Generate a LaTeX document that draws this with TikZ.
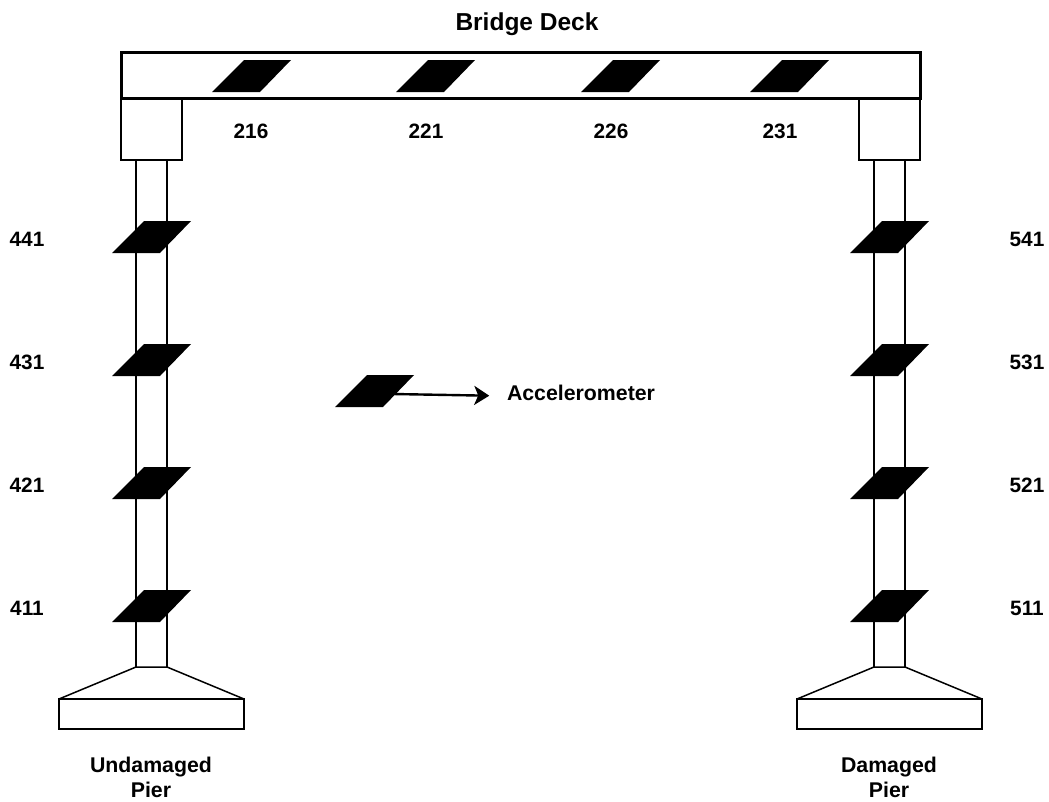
\documentclass[tikz,border=0pt]{standalone}
\usepackage{fontspec}
\setmainfont{Liberation Sans}
\usetikzlibrary{arrows.meta}
\begin{document}
\begin{tikzpicture}[x=1pt, y=-1pt, line width=1.5pt,
    lab/.style={font=\fontsize{21.3}{25}\bfseries\selectfont, inner sep=0pt, align=center},
    numlab/.style={lab, font=\fontsize{20.8}{25}\bfseries\selectfont, anchor=base},
    sensor/.pic={\fill[black] (0,0) -- (48,0) -- (79,-32) -- (32,-32) -- cycle;}]

  \useasboundingbox (0,0) rectangle (1049,801);

  % --- Pilas ---
  \foreach \dx/\name in {0/Undamaged, 738/Damaged} {
    \draw (\dx+121,98) rectangle (\dx+182,160);
    \draw (\dx+136,160) -- (\dx+136,667);
    \draw (\dx+167,160) -- (\dx+167,667);
    \draw (\dx+59,699) -- (\dx+136,667) -- (\dx+167,667) -- (\dx+244,699);
    \draw (\dx+59,699) rectangle (\dx+244,729);
    \node[lab] (pier\name) at (\dx+151,777) {\name\\Pier};
  }

  % --- Tablero ---
  \draw[line width=3pt] (121,52.5) rectangle (920,98);
  \node[lab, font=\fontsize{24.5}{28}\bfseries\selectfont] (deck) at (527,24) {Bridge Deck};

  % --- Sensores del tablero ---
  \foreach \x/\lx/\n in {212/251/216, 396/426/221, 581/611/226, 750/780/231} {
    \pic at (\x,92) {sensor};
    \node[numlab] (s\n) at (\lx,138.5) {\n};
  }

  % --- Sensores de las pilas ---
  \foreach \y/\m in {253/41, 376/31, 499/21, 622/11} {
    \pic at (112,\y) {sensor};
    \pic at (850,\y) {sensor};
    \node[numlab] (s4\m) at (27,\y-6.5) {4\m};
    \node[numlab] (s5\m) at (1027,\y-6.5) {5\m};
  }

  % --- Leyenda ---
  \pic at (335,407) {sensor};
  \coordinate (keysensor) at (393,394);
  \node[lab] (keylabel) at (581,392.5) {Accelerometer};
  \draw[-{Stealth[length=15pt, width=19pt, inset=4pt]}, line width=2.4pt, shorten >=17pt]
    (keysensor) -- ([yshift=-3.5pt]keylabel.west);

\end{tikzpicture}
\end{document}
